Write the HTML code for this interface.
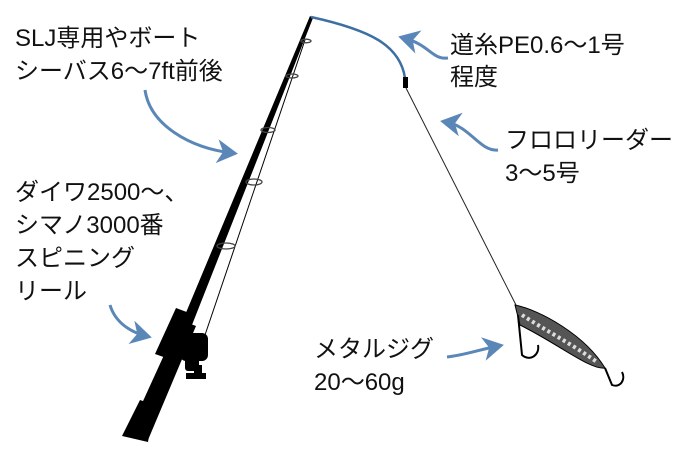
<!DOCTYPE html>
<html><head><meta charset="utf-8"><style>
html,body{margin:0;padding:0;background:#fff;}
svg{display:block}
text{font-family:"Liberation Sans","Noto Sans CJK JP",sans-serif;font-size:24px;fill:#111;}
</style></head><body>
<svg width="695" height="460" viewBox="0 0 695 460" xmlns="http://www.w3.org/2000/svg">
<defs><marker id="ah" markerWidth="8" markerHeight="8" refX="5" refY="4" orient="auto" markerUnits="strokeWidth"><path d="M0,0 L7,4 L0,8 L2,4 Z" fill="#5b87b8"/></marker></defs>
<!-- rod -->
<polygon points="310,16 313,18 190,330 180,327" fill="#000"/>
<polygon points="180,320 196,326 148,440 128,434" fill="#000"/>
<polygon points="176,308 192,314 172,360 155,354" fill="#000"/>
<polygon points="140,400 154,405 148,442 122,436" fill="#000"/>
<line x1="305" y1="40" x2="205" y2="335" stroke="#000" stroke-width="1"/>
<!-- guides -->
<g fill="none" stroke="#444" stroke-width="1.3">
<ellipse cx="306" cy="41" rx="5" ry="1.8"/><ellipse cx="292" cy="76" rx="6" ry="2"/>
<ellipse cx="268" cy="130" rx="7" ry="2.5"/><ellipse cx="254" cy="182" rx="8" ry="3"/>
<ellipse cx="226" cy="246" rx="9" ry="3"/></g>
<!-- reel -->
<rect x="180" y="333" width="28" height="28" rx="6" fill="#000"/>
<rect x="185" y="355" width="14" height="16" rx="3" fill="#000"/>
<rect x="194" y="365" width="8" height="14" fill="#000"/>
<rect x="186" y="373" width="20" height="6" fill="#000"/>
<!-- line -->
<path d="M311,17 C370,30 400,45 405,78" fill="none" stroke="#3d6fa3" stroke-width="2.5"/>
<rect x="403" y="77" width="5" height="11" fill="#000"/>
<line x1="406" y1="88" x2="516" y2="305" stroke="#222" stroke-width="1"/>
<!-- jig -->
<path d="M515,305 C540,310 585,335 605,368 C590,370 560,345 520,325 Z" fill="#555" stroke="#000"/>
<path d="M522,315 C545,330 570,343 597,362" stroke="#ddd" stroke-width="4" fill="none" stroke-dasharray="3 3"/>
<path d="M518,315 L522,355 C530,362 540,355 538,345" fill="none" stroke="#000" stroke-width="2"/>
<path d="M605,368 L612,385 C620,388 626,380 622,372" fill="none" stroke="#000" stroke-width="2"/>
<!-- arrows -->
<g fill="none" stroke="#5b87b8" stroke-width="3" marker-end="url(#ah)">
<path d="M145,90 C150,125 190,148 232,153"/>
<path d="M110,305 C115,322 130,332 146,336"/>
<path d="M448,58 C432,60 430,45 404,38"/>
<path d="M498,150 C480,152 470,126 446,122"/>
<path d="M447,357 C465,355 478,350 498,346"/>
</g>
<!-- labels -->
<text x="15" y="46">SLJ専用やボート</text>
<text x="15" y="79">シーバス6〜7ft前後</text>
<text x="450" y="53">道糸PE0.6〜1号</text>
<text x="450" y="85">程度</text>
<text x="505" y="148">フロロリーダー</text>
<text x="505" y="181">3〜5号</text>
<text x="15" y="200">ダイワ2500〜、</text>
<text x="15" y="233">シマノ3000番</text>
<text x="15" y="266">スピニング</text>
<text x="15" y="299">リール</text>
<text x="314" y="357">メタルジグ</text>
<text x="314" y="390">20〜60g</text>
</svg>
</body></html>
